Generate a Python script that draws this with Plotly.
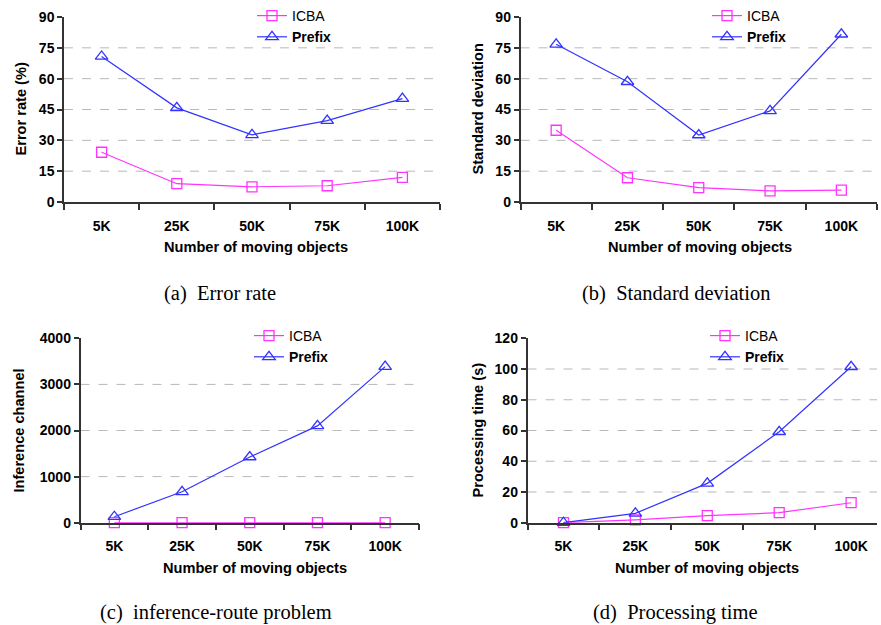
import plotly.graph_objects as go

categories = ["5K", "25K", "50K", "75K", "100K"]

err_icba = [24.2, 8.9, 7.4, 7.9, 12.0]
err_prefix = [70.8, 45.8, 32.7, 39.6, 50.3]

std_icba = [34.9, 11.8, 7.0, 5.4, 5.8]
std_prefix = [76.7, 58.5, 32.6, 44.3, 81.6]

inf_icba = [0, 0, 0, 0, 0]
inf_prefix = [130, 670, 1425, 2100, 3385]

time_icba = [0, 1.8, 4.6, 6.5, 13.0]
time_prefix = [0, 6.1, 25.6, 59.2, 101.5]

y_ticks_a = [0, 15, 30, 45, 60, 75, 90]
y_ticks_b = [0, 15, 30, 45, 60, 75, 90]
y_ticks_c = [0, 1000, 2000, 3000, 4000]
y_ticks_d = [0, 20, 40, 60, 80, 100, 120]

y_titles = ["Error rate (%)", "Standard deviation", "Inference channel", "Processing time (s)"]
x_title = "Number of moving objects"
captions = ["(a)&nbsp;&nbsp;Error rate", "(b)&nbsp;&nbsp;Standard deviation",
            "(c)&nbsp;&nbsp;inference-route problem", "(d)&nbsp;&nbsp;Processing time"]

W, H = 881, 625
SANS = "Liberation Sans, Arial, sans-serif"
SERIF = "Liberation Serif, Times New Roman, serif"
ICBA_C = "#FF33FF"
PREF_C = "#3333FF"

def px(x):
    return x / W

def py(y):
    return 1 - y / H

# panel geometry (pixels): x0, x1, ytop, ybottom, x-range end
panels = [
    dict(x0=64, x1=440, yt=17, yb=202, xend=4.5),
    dict(x0=520.5, x1=877, yt=17, yb=202, xend=4.5),
    dict(x0=80.5, x1=419, yt=338.3, yb=522.7, xend=4.5),
    dict(x0=527.5, x1=877, yt=338.3, yb=522.7, xend=4.36),
]
series = [
    (err_icba, err_prefix, y_ticks_a),
    (std_icba, std_prefix, y_ticks_b),
    (inf_icba, inf_prefix, y_ticks_c),
    (time_icba, time_prefix, y_ticks_d),
]
ytitle_pos = [(20, 109.5), (477, 109.5), (18, 430.5), (477, 430.5)]
xtitle_pos = [(256, 247), (700, 247), (255, 568), (707, 568)]
caption_pos = [(220, 293), (676, 293), (216, 612), (675, 612)]
legend_pos = [(252, 0), (707, 0), (249, 320), (705, 320)]

fig = go.Figure()
layout = dict(
    width=W, height=H, margin=dict(l=0, r=0, t=0, b=0, autoexpand=False),
    paper_bgcolor="white", plot_bgcolor="white",
    font=dict(family=SANS, color="black"),
    annotations=[], shapes=[],
)

for i, (p, (icba, pref, yt)) in enumerate(zip(panels, series)):
    n = "" if i == 0 else str(i + 1)
    xa, ya = "x" + n, "y" + n
    lg = "legend" + n
    fig.add_trace(go.Scatter(
        x=categories, y=icba, name="ICBA", mode="lines+markers",
        line=dict(color=ICBA_C, width=1.2),
        marker=dict(symbol="square-open", size=10, color=ICBA_C, line=dict(width=1.3)),
        xaxis=xa, yaxis=ya, legend=lg, cliponaxis=False))
    fig.add_trace(go.Scatter(
        x=categories, y=pref, name="<b>Prefix</b>", mode="lines+markers",
        line=dict(color=PREF_C, width=1.2),
        marker=dict(symbol="triangle-up-open", size=11, color=PREF_C, line=dict(width=1.3)),
        xaxis=xa, yaxis=ya, legend=lg, cliponaxis=False))

    layout["xaxis" + n] = dict(
        domain=[px(p["x0"]), px(p["x1"])], anchor=ya, automargin=False,
        type="category", range=[-0.5, p["xend"]],
        showline=True, linecolor="#333", linewidth=1.5,
        ticks="outside", ticklen=6, tickcolor="#333", tickwidth=1.5,
        tickson="boundaries", showgrid=False, zeroline=False,
        tickfont=dict(family=SANS, size=14, color="black", weight="bold"),
        ticklabelstandoff=10,
    )
    layout["yaxis" + n] = dict(
        domain=[py(p["yb"]), py(p["yt"])], anchor=xa, automargin=False,
        range=[yt[0], yt[-1]], tickvals=yt,
        showline=True, linecolor="#333", linewidth=1.5,
        ticks="outside", ticklen=5, tickcolor="#333", tickwidth=1.5,
        showgrid=False, zeroline=False,
        tickfont=dict(family=SANS, size=14, color="black", weight="bold"),
    )
    for v in yt[1:-1]:
        layout["shapes"].append(dict(
            type="line", xref=xa + " domain", yref=ya, x0=0, x1=1, y0=v, y1=v,
            line=dict(color="#b8b8b8", width=1, dash="dash"), layer="below"))

    lx, ly = legend_pos[i]
    layout[lg] = dict(
        x=px(lx), y=py(ly), xanchor="left", yanchor="top",
        bgcolor="rgba(0,0,0,0)", borderwidth=0,
        font=dict(family=SANS, size=14, color="black"),
        tracegroupgap=0, itemwidth=30,
    )

    tx, ty = ytitle_pos[i]
    layout["annotations"].append(dict(
        text=y_titles[i], x=px(tx), y=py(ty), xref="paper", yref="paper",
        showarrow=False, textangle=-90, xanchor="center", yanchor="middle",
        font=dict(family=SANS, size=14.6, color="black", weight="bold")))
    tx, ty = xtitle_pos[i]
    layout["annotations"].append(dict(
        text=x_title, x=px(tx), y=py(ty), xref="paper", yref="paper",
        showarrow=False, xanchor="center", yanchor="middle",
        font=dict(family=SANS, size=14.6, color="black", weight="bold")))
    tx, ty = caption_pos[i]
    layout["annotations"].append(dict(
        text=captions[i], x=px(tx), y=py(ty), xref="paper", yref="paper",
        showarrow=False, xanchor="center", yanchor="middle",
        font=dict(family=SERIF, size=20.5, color="black")))

fig.update_layout(**layout)
fig.write_html("out.html")
